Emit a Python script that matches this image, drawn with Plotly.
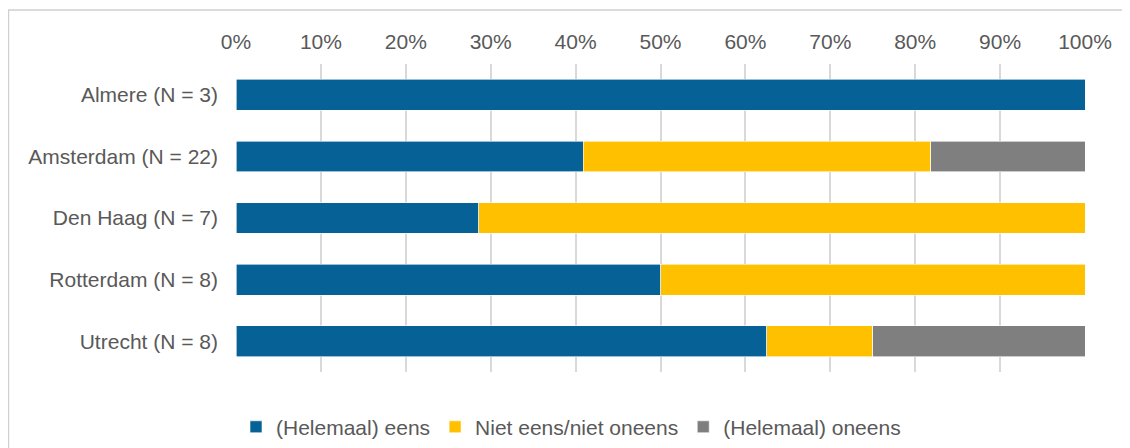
import plotly.graph_objects as go

# share of answers per city (fractions)
cities = ["Almere (N = 3)", "Amsterdam (N = 22)", "Den Haag (N = 7)",
          "Rotterdam (N = 8)", "Utrecht (N = 8)"]
eens = [1.0, 9 / 22, 2 / 7, 4 / 8, 5 / 8]
neutraal = [0.0, 9 / 22, 5 / 7, 4 / 8, 1 / 8]
oneens = [0.0, 4 / 22, 0.0, 0.0, 2 / 8]

series = [
    ("(Helemaal) eens", eens, "#066296"),
    ("Niet eens/niet oneens", neutraal, "#FFC000"),
    ("(Helemaal) oneens", oneens, "#7F7F7F"),
]

fig = go.Figure()
for name, vals, color in series:
    fig.add_trace(go.Bar(
        y=cities, x=vals, name=name, orientation="h",
        marker=dict(color=color, line=dict(color="white", width=0.6)),
    ))

# page body adds 8px offset, so the figure is a bit smaller than the window
fig.update_layout(
    barmode="stack",
    bargap=0.5,
    width=1122, height=440,
    margin=dict(l=228, r=45, t=56, b=76, autoexpand=False),
    paper_bgcolor="white", plot_bgcolor="white",
    font=dict(family="Liberation Sans, Arial", size=21, color="#595959"),
    legend=dict(orientation="h", x=0.0, xanchor="left", y=-0.179,
                yanchor="middle", font=dict(size=21, color="#595959"),
                itemwidth=30, traceorder="normal"),
    shapes=[dict(type="rect", xref="paper", yref="paper",
                 x0=-0.268, x1=1.2, y0=-0.4, y1=1.175,
                 line=dict(color="#D0D0D0", width=1.5), layer="below")],
)

fig.update_xaxes(
    side="top", range=[0, 1], tickformat=".0%", dtick=0.1,
    showgrid=True, gridcolor="#D9D9D9", gridwidth=1.5,
    zeroline=False, showline=False, ticks="",
    ticklabelstandoff=10,
)
fig.update_yaxes(
    autorange="reversed", showgrid=False, zeroline=False,
    showline=False, ticks="", ticklabelstandoff=17,
)

fig.write_html("out.html")
